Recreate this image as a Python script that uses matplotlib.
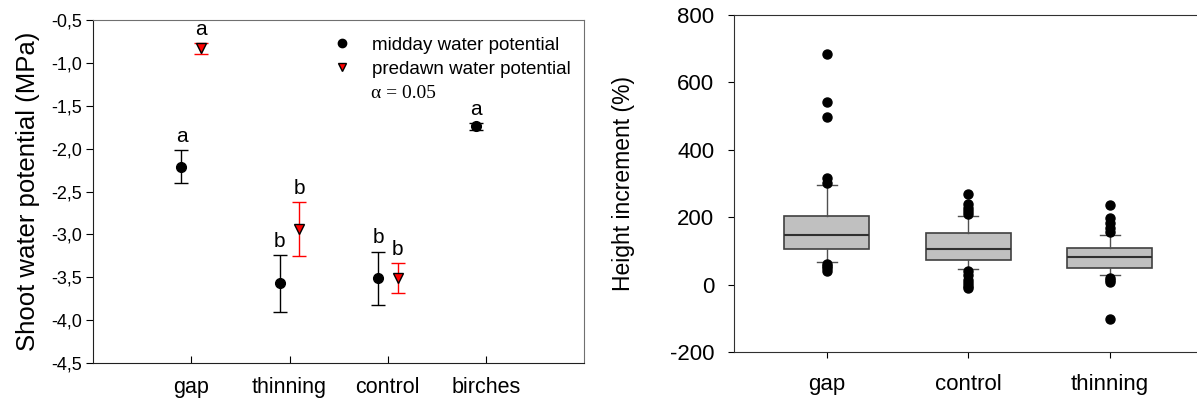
import numpy as np
import matplotlib
matplotlib.use('Agg')
import matplotlib.pyplot as plt
from matplotlib.lines import Line2D

plt.rcParams['font.family'] = ['Liberation Sans', 'DejaVu Sans']
plt.rcParams['axes.unicode_minus'] = False

# ---------------- data: left panel (water potential) ----------------
cats_left = ['gap', 'thinning', 'control', 'birches']
midday_mean = [-2.21, -3.57, -3.51, -1.74]
midday_err = [0.19, 0.33, 0.31, 0.04]
midday_letters = ['a', 'b', 'b', 'a']
predawn_mean = [-0.83, -2.94, -3.51]
predawn_err = [0.065, 0.315, 0.175]
predawn_letters = ['a', 'b', 'b']
yticks_left = [-0.5, -1.0, -1.5, -2.0, -2.5, -3.0, -3.5, -4.0, -4.5]

# ---------------- data: right panel (height increment boxplots) ----------------
cats_right = ['gap', 'control', 'thinning']
q1 = [107, 74, 50]
med = [148, 107, 83]
q3 = [205, 154, 110]
whislo = [68, 45, 30]
whishi = [297, 205, 148]
fliers = [
    [685, 543, 496, 315, 303, 62, 55, 48, 42],
    [270, 240, 228, 218, 210, 40, 28, 15, 5, -5, -10],
    [237, 199, 184, 169, 157, 21, 14, 8, -101],
]

fig = plt.figure(figsize=(11.97, 4.01), dpi=100)

# ================= left panel =================
ax1 = fig.add_axes([0.0777, 0.0948, 0.4105, 0.8552])
x = np.arange(1, len(cats_left) + 1)
off = 0.1
ax1.errorbar(x - off, midday_mean, yerr=midday_err, fmt='o', color='k', ms=7,
             ecolor='k', elinewidth=1, capsize=5, capthick=1, zorder=3)
xp = x[:len(predawn_mean)] + off
ax1.errorbar(xp, predawn_mean, yerr=predawn_err, fmt='v', mfc='red', mec='k',
             ms=7, ecolor='red', elinewidth=1, capsize=5, capthick=1, zorder=3)

for xi, m, e, l in zip(x - off, midday_mean, midday_err, midday_letters):
    ax1.annotate(l, (xi, m + e), xytext=(0, 3), textcoords='offset points',
                 ha='center', va='bottom', fontsize=15)
for xi, m, e, l in zip(xp, predawn_mean, predawn_err, predawn_letters):
    ax1.annotate(l, (xi, m + e), xytext=(0, 3), textcoords='offset points',
                 ha='center', va='bottom', fontsize=15)

ax1.set_xlim(0, 5)
ax1.set_ylim(-4.5, -0.5)
ax1.set_xticks(x)
ax1.set_xticklabels(cats_left, fontsize=15.5)
ax1.set_yticks(yticks_left)
ax1.set_yticklabels([('%.1f' % v).replace('.', ',') for v in yticks_left], fontsize=13)
ax1.tick_params(axis='x', direction='in', length=5, pad=10)
ax1.tick_params(axis='y', direction='out', length=5, pad=3)
ax1.set_ylabel('Shoot water potential (MPa)', fontsize=18.5)
ax1.yaxis.set_label_coords(-0.108, 0.5)
for s in ['top', 'right']:
    ax1.spines[s].set_color('#707070')
for s in ['left', 'bottom']:
    ax1.spines[s].set_color('#202020')

handles = [Line2D([], [], ls='none', marker='o', color='k', ms=6),
           Line2D([], [], ls='none', marker='v', mfc='red', mec='k', ms=6)]
ax1.legend(handles, ['midday water potential', 'predawn water potential'],
           loc='upper left', bbox_to_anchor=(0.45, 1.0), frameon=False,
           fontsize=13.5, handlelength=1.2, handletextpad=1.0, labelspacing=0.35)
ax1.text(0.566, 0.787, 'α = 0.05', transform=ax1.transAxes, fontsize=14,
         family='Liberation Serif', va='center', ha='left')

# ================= right panel =================
ax2 = fig.add_axes([0.613, 0.122, 0.387, 0.8406])
stats = []
for i in range(len(cats_right)):
    stats.append(dict(med=med[i], q1=q1[i], q3=q3[i], whislo=whislo[i],
                      whishi=whishi[i], fliers=fliers[i], label=cats_right[i]))
ax2.bxp(stats, positions=[1, 2, 3], widths=0.6, patch_artist=True,
        boxprops=dict(facecolor='#c0c0c0', edgecolor='#404040', linewidth=1.2),
        medianprops=dict(color='#303030', linewidth=1.5),
        whiskerprops=dict(color='#505050', linewidth=1),
        capprops=dict(color='#505050', linewidth=1),
        capwidths=0.14,
        flierprops=dict(marker='o', mfc='k', mec='k', ms=6.5))
ax2.set_xlim(0.343, 3.615)
ax2.set_ylim(-200, 800)
ax2.set_yticks([-200, 0, 200, 400, 600, 800])
ax2.tick_params(axis='y', direction='out', length=4, pad=10, labelsize=16)
ax2.tick_params(axis='x', direction='out', length=4, pad=12, labelsize=16)
ax2.set_ylabel('Height increment (%)', fontsize=16.5)
ax2.yaxis.set_label_coords(-0.214, 0.5)
ax2.spines['right'].set_visible(False)
for s in ['top', 'left', 'bottom']:
    ax2.spines[s].set_color('#303030')

fig.savefig('out.png', dpi=100)
